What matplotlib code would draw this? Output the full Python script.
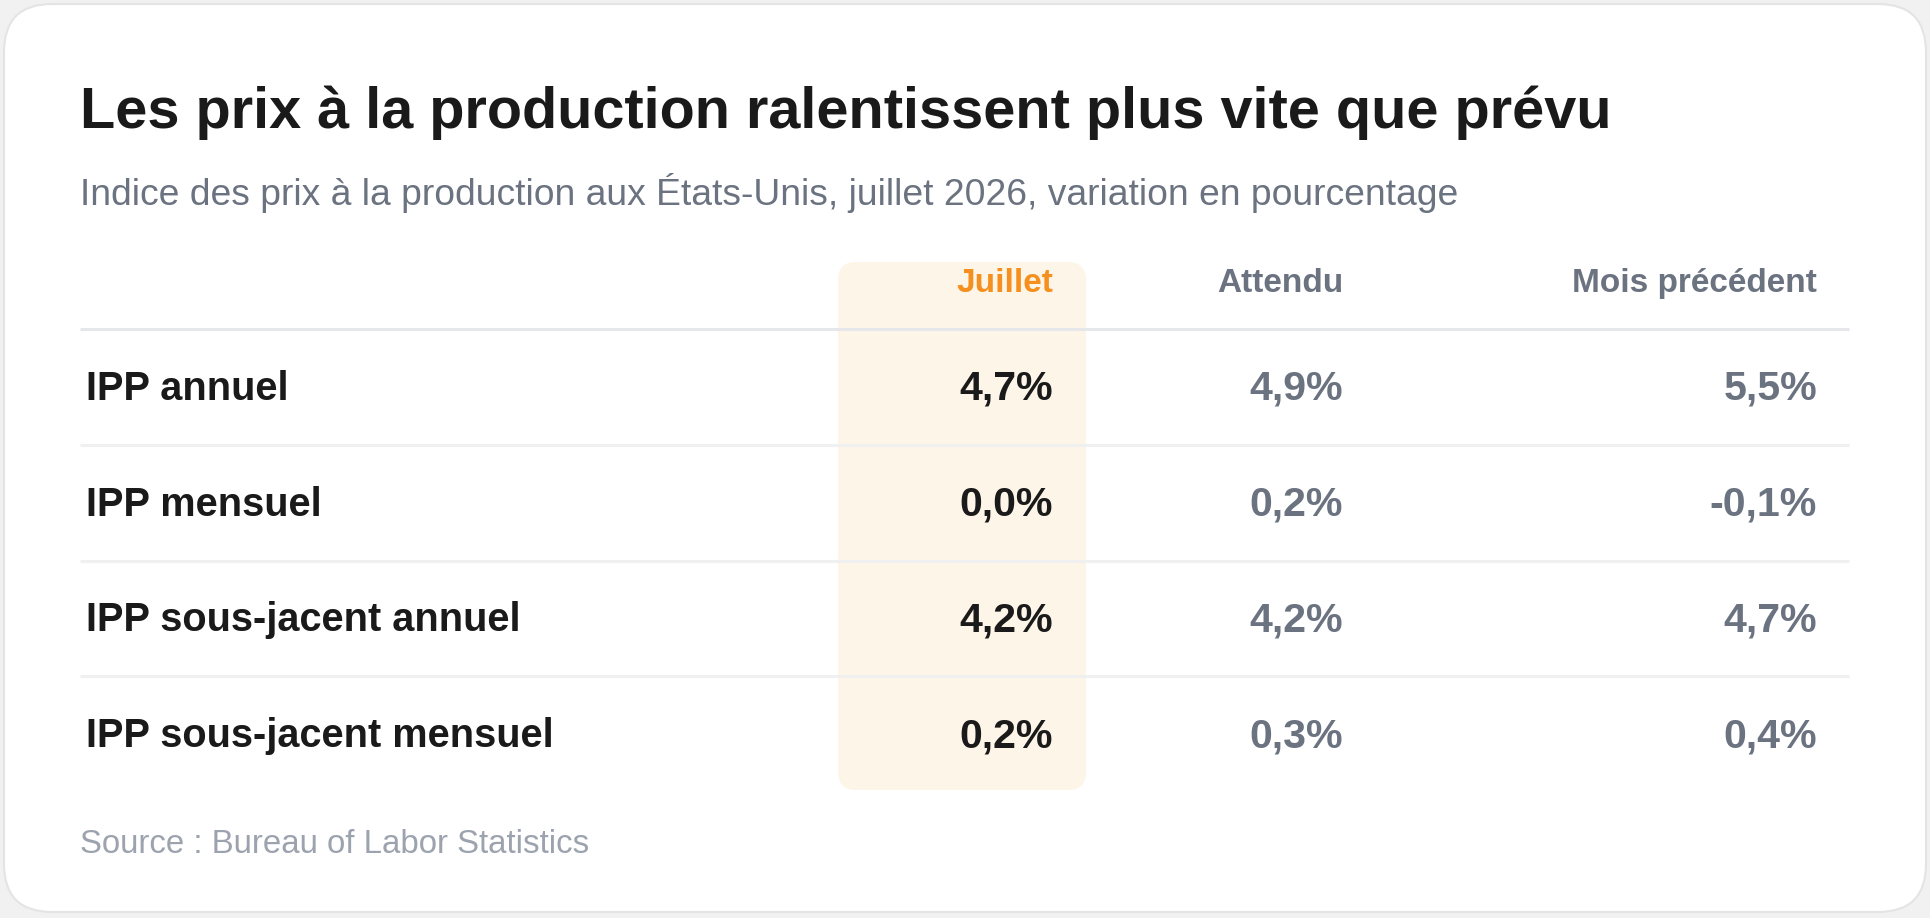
import matplotlib
matplotlib.use('Agg')
from matplotlib import pyplot as plt
from matplotlib.patches import FancyBboxPatch

W, H = 1930, 918

title = 'Les prix à la production ralentissent plus vite que prévu'
subtitle = 'Indice des prix à la production aux États-Unis, juillet 2026, variation en pourcentage'
source = 'Source : Bureau of Labor Statistics'

columns = ['Juillet', 'Attendu', 'Mois précédent']
rows = ['IPP annuel', 'IPP mensuel', 'IPP sous-jacent annuel', 'IPP sous-jacent mensuel']
juillet = [4.7, 0.0, 4.2, 0.2]
attendu = [4.9, 0.2, 4.2, 0.3]
precedent = [5.5, -0.1, 4.7, 0.4]

DARK = '#1a1a1a'
GRAY = '#6b7280'
LIGHT = '#9ca3af'
ORANGE = '#f5901e'


def fmt(v):
    return ('%.1f%%' % v).replace('.', ',')


plt.rcParams['font.family'] = ['Liberation Sans', 'DejaVu Sans']

fig = plt.figure(figsize=(W / 100, H / 100), dpi=100)
fig.patch.set_facecolor('#f1f1f1')
ax = fig.add_axes([0, 0, 1, 1])
ax.set_xlim(0, W)
ax.set_ylim(H, 0)
ax.axis('off')

# card
card = FancyBboxPatch((4, 4), W - 8, 908, boxstyle='round,pad=0,rounding_size=48',
                      fc='white', ec='#e4e4e4', lw=1.5)
ax.add_patch(card)

ax.text(80, 128, title, fontsize=41.5, fontweight='bold', color=DARK, va='baseline')
ax.text(80, 205, subtitle, fontsize=26.8, color=GRAY, va='baseline')

# highlight column
hl = FancyBboxPatch((838, 262), 248, 528, boxstyle='round,pad=0,rounding_size=18',
                    fc='#fdf5e8', ec='none')
ax.add_patch(hl)

col_right = [1053, 1343, 1817]
header_y = 292
row_y0, row_step = 400, 115.7

for j, c in enumerate(columns):
    ax.text(col_right[j], header_y, c, fontsize=24, fontweight='bold',
            color=ORANGE if j == 0 else GRAY, ha='right', va='baseline')

ax.plot([80, 1849], [329, 329], color='#e5e7eb', lw=2.2, solid_capstyle='butt')

for i, r in enumerate(rows):
    y = row_y0 + i * row_step
    ax.text(86, y, r, fontsize=28.6, fontweight='bold', color=DARK, va='baseline')
    vals = [juillet[i], attendu[i], precedent[i]]
    for j, v in enumerate(vals):
        ax.text(col_right[j], y, fmt(v), fontsize=29.6, fontweight='bold',
                color=DARK if j == 0 else GRAY, ha='right', va='baseline')
    if i < len(rows) - 1:
        ly = y + 45
        ax.plot([80, 1849], [ly, ly], color='#f0f0f0', lw=2.2, solid_capstyle='butt')

ax.text(80, 853, source, fontsize=23.8, color=LIGHT, va='baseline')

fig.savefig('out.png', dpi=100, facecolor=fig.get_facecolor())
